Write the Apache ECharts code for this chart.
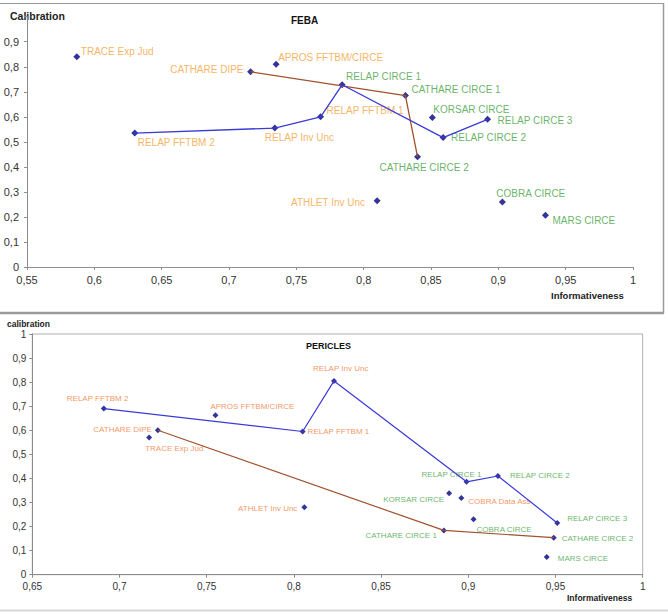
<!DOCTYPE html>
<html>
<head>
<meta charset="utf-8">
<script src="https://cdn.jsdelivr.net/npm/echarts@6/dist/echarts.min.js"></script>
<style>
  html, body { margin: 0; padding: 0; background: #fff; }
  #chart { width: 668px; height: 615px; }
</style>
</head>
<body>
<div id="chart"></div>
<script>
// FEBA
const febaNames = ['TRACE Exp Jud', 'APROS FFTBM/CIRCE', 'CATHARE DIPE', 'RELAP FFTBM 2', 'RELAP Inv Unc',
  'RELAP FFTBM 1', 'RELAP CIRCE 1', 'CATHARE CIRCE 1', 'KORSAR CIRCE', 'RELAP CIRCE 3',
  'RELAP CIRCE 2', 'CATHARE CIRCE 2', 'ATHLET Inv Unc', 'COBRA CIRCE', 'MARS CIRCE'];
const febaInformativeness = [0.587, 0.735, 0.716, 0.630, 0.734, 0.768, 0.784, 0.831, 0.851, 0.892, 0.859, 0.840, 0.810, 0.903, 0.935];
const febaCalibration = [0.84, 0.81, 0.78, 0.535, 0.555, 0.60, 0.728, 0.685, 0.597, 0.59, 0.517, 0.44, 0.265, 0.26, 0.207];
const febaRelapPath = ['RELAP FFTBM 2', 'RELAP Inv Unc', 'RELAP FFTBM 1', 'RELAP CIRCE 1', 'RELAP CIRCE 2', 'RELAP CIRCE 3'];
const febaCatharePath = ['CATHARE DIPE', 'CATHARE CIRCE 1', 'CATHARE CIRCE 2'];

// PERICLES
const periclesNames = ['RELAP FFTBM 2', 'APROS FFTBM/CIRCE', 'CATHARE DIPE', 'TRACE Exp Jud', 'RELAP Inv Unc',
  'RELAP FFTBM 1', 'ATHLET Inv Unc', 'RELAP CIRCE 1', 'RELAP CIRCE 2', 'RELAP CIRCE 3',
  'KORSAR CIRCE', 'COBRA Data Ass', 'COBRA CIRCE', 'CATHARE CIRCE 1', 'CATHARE CIRCE 2', 'MARS CIRCE'];
const periclesInformativeness = [0.691, 0.755, 0.722, 0.717, 0.823, 0.805, 0.806, 0.899, 0.917, 0.951, 0.889, 0.896, 0.903, 0.886, 0.949, 0.945];
const periclesCalibration = [0.69, 0.662, 0.60, 0.57, 0.805, 0.595, 0.28, 0.386, 0.41, 0.215, 0.338, 0.319, 0.23, 0.184, 0.154, 0.074];
const periclesRelapPath = ['RELAP FFTBM 2', 'RELAP FFTBM 1', 'RELAP Inv Unc', 'RELAP CIRCE 1', 'RELAP CIRCE 2', 'RELAP CIRCE 3'];
const periclesCatharePath = ['CATHARE DIPE', 'CATHARE CIRCE 1', 'CATHARE CIRCE 2'];

// label placement: [dx, dy, colour, align]
const febaLabels = {
  'TRACE Exp Jud': [4, -5, 'o', 'left'],
  'APROS FFTBM/CIRCE': [2, -7, 'o', 'left'],
  'CATHARE DIPE': [-7, -2, 'o', 'right'],
  'RELAP FFTBM 2': [3, 9, 'o', 'left'],
  'RELAP Inv Unc': [-10, 9, 'o', 'left'],
  'RELAP FFTBM 1': [6, -6, 'o', 'left'],
  'RELAP CIRCE 1': [4, -8, 'g', 'left'],
  'CATHARE CIRCE 1': [6, -6, 'g', 'left'],
  'KORSAR CIRCE': [1, -8, 'g', 'left'],
  'RELAP CIRCE 3': [10, 1, 'g', 'left'],
  'RELAP CIRCE 2': [8, 0, 'g', 'left'],
  'CATHARE CIRCE 2': [-38, 11, 'g', 'left'],
  'ATHLET Inv Unc': [-12, 2, 'o', 'right'],
  'COBRA CIRCE': [-6, -8, 'g', 'left'],
  'MARS CIRCE': [7, 5, 'g', 'left']
};
const periclesLabels = {
  'RELAP FFTBM 2': [-37, -10, 'o', 'left'],
  'APROS FFTBM/CIRCE': [-5, -9, 'o', 'left'],
  'CATHARE DIPE': [-6, -1, 'o', 'right'],
  'TRACE Exp Jud': [-4, 11, 'o', 'left'],
  'RELAP Inv Unc': [-21, -12, 'o', 'left'],
  'RELAP FFTBM 1': [5, 0, 'o', 'left'],
  'ATHLET Inv Unc': [-7, 1, 'o', 'right'],
  'RELAP CIRCE 1': [-45, -7, 'g', 'left'],
  'RELAP CIRCE 2': [12, -1, 'g', 'left'],
  'RELAP CIRCE 3': [10, -4, 'g', 'left'],
  'KORSAR CIRCE': [-5, 6, 'g', 'right'],
  'COBRA Data Ass': [7, 4, 'o', 'left'],
  'COBRA CIRCE': [3, 10, 'g', 'left'],
  'CATHARE CIRCE 1': [-7, 5, 'g', 'right'],
  'CATHARE CIRCE 2': [8, 1, 'g', 'left'],
  'MARS CIRCE': [11, 2, 'g', 'left']
};

const FONT = 'Liberation Sans, Arial, sans-serif';

function commaFmt(v) {
  return String(+v.toFixed(2)).replace('.', ',');
}

function buildPoints(names, xs, ys, layout, size, fontSize, orange) {
  return names.map((n, i) => {
    const l = layout[n];
    return {
      name: n,
      value: [xs[i], ys[i]],
      label: {
        show: true,
        formatter: n,
        position: [l[0] + size / 2, l[1] + size / 2],
        align: l[3],
        verticalAlign: 'middle',
        color: l[2] === 'g' ? '#3f9f3f' : orange,
        fontSize: fontSize,
        fontFamily: FONT
      }
    };
  });
}

function buildPath(path, names, xs, ys) {
  return path.map(n => {
    const i = names.indexOf(n);
    return [xs[i], ys[i]];
  });
}

function axisCommon(fontSize, margin) {
  return {
    type: 'value',
    interval: 0.05,
    max: 1,
    splitLine: { show: false },
    axisLine: { show: true, onZero: false, lineStyle: { color: '#8c8c8c', width: 1 } },
    axisTick: { show: true, length: 3, lineStyle: { color: '#8c8c8c' } },
    axisLabel: { fontSize: fontSize, color: '#333', fontFamily: FONT, margin: margin, formatter: commaFmt }
  };
}

const chart = echarts.init(document.getElementById('chart'), null, { renderer: 'svg' });

const option = {
  backgroundColor: '#fff',
  animation: false,
  grid: [
    { left: 27, right: 35, top: 16.7, bottom: 348 },
    { left: 32.3, right: 25.3, top: 334, bottom: 40.3, show: true, borderColor: '#b0b0b0', borderWidth: 1 }
  ],
  xAxis: [
    Object.assign(axisCommon(11, 7), { gridIndex: 0, min: 0.55 }),
    Object.assign(axisCommon(10, 7), { gridIndex: 1, min: 0.65 })
  ],
  yAxis: [
    Object.assign(axisCommon(11, 8), {
      gridIndex: 0, min: 0, interval: 0.1,
      axisLabel: { fontSize: 11, color: '#333', fontFamily: FONT, margin: 8,
        formatter: v => (v >= 1 ? '' : commaFmt(v)) }
    }),
    Object.assign(axisCommon(10, 6), { gridIndex: 1, min: 0, interval: 0.1 })
  ],
  series: [
    {
      type: 'line', xAxisIndex: 0, yAxisIndex: 0, symbol: 'none', silent: true,
      lineStyle: { color: '#a0522d', width: 1.3 },
      data: buildPath(febaCatharePath, febaNames, febaInformativeness, febaCalibration)
    },
    {
      type: 'line', xAxisIndex: 0, yAxisIndex: 0, symbol: 'none', silent: true,
      lineStyle: { color: '#3a3ad6', width: 1.3 },
      data: buildPath(febaRelapPath, febaNames, febaInformativeness, febaCalibration)
    },
    {
      type: 'scatter', xAxisIndex: 0, yAxisIndex: 0, symbol: 'diamond', symbolSize: 7,
      itemStyle: { color: '#000080' },
      data: buildPoints(febaNames, febaInformativeness, febaCalibration, febaLabels, 7, 10, '#f2a23a')
    },
    {
      type: 'line', xAxisIndex: 1, yAxisIndex: 1, symbol: 'none', silent: true,
      lineStyle: { color: '#a0522d', width: 1.2 },
      data: buildPath(periclesCatharePath, periclesNames, periclesInformativeness, periclesCalibration)
    },
    {
      type: 'line', xAxisIndex: 1, yAxisIndex: 1, symbol: 'none', silent: true,
      lineStyle: { color: '#3a3ad6', width: 1.2 },
      data: buildPath(periclesRelapPath, periclesNames, periclesInformativeness, periclesCalibration)
    },
    {
      type: 'scatter', xAxisIndex: 1, yAxisIndex: 1, symbol: 'diamond', symbolSize: 6,
      itemStyle: { color: '#000080' },
      data: buildPoints(periclesNames, periclesInformativeness, periclesCalibration, periclesLabels, 6, 8, '#f07a3a')
    }
  ],
  graphic: [
    // outer frame of the FEBA chart
    { type: 'line', shape: { x1: 0, y1: 3.5, x2: 663.5, y2: 3.5 }, style: { stroke: '#9a9a9a', lineWidth: 1 }, silent: true },
    { type: 'line', shape: { x1: 663.5, y1: 3, x2: 663.5, y2: 313 }, style: { stroke: '#9a9a9a', lineWidth: 1.5 }, silent: true },
    { type: 'line', shape: { x1: 0, y1: 313, x2: 664, y2: 313 }, style: { stroke: '#9a9a9a', lineWidth: 2.5 }, silent: true },
    // bottom edge of the PERICLES chart
    { type: 'line', shape: { x1: 0, y1: 610.5, x2: 668, y2: 610.5 }, style: { stroke: '#d8d8d8', lineWidth: 2 }, silent: true },
    // titles
    { type: 'text', left: 291, top: 15, style: { text: 'FEBA', font: 'bold 10px ' + FONT, fill: '#111' } },
    { type: 'text', left: 10, top: 10, style: { text: 'Calibration', font: 'bold 10.5px ' + FONT, fill: '#222' } },
    { type: 'text', left: 551, top: 290, style: { text: 'Informativeness', font: 'bold 9.5px ' + FONT, fill: '#222' } },
    { type: 'text', left: 306, top: 341, style: { text: 'PERICLES', font: 'bold 9px ' + FONT, fill: '#111' } },
    { type: 'text', left: 7, top: 319, style: { text: 'calibration', font: 'bold 8.5px ' + FONT, fill: '#222' } },
    { type: 'text', left: 567, top: 593, style: { text: 'Informativeness', font: 'bold 8.5px ' + FONT, fill: '#222' } }
  ]
};

chart.setOption(option);
</script>
</body>
</html>
